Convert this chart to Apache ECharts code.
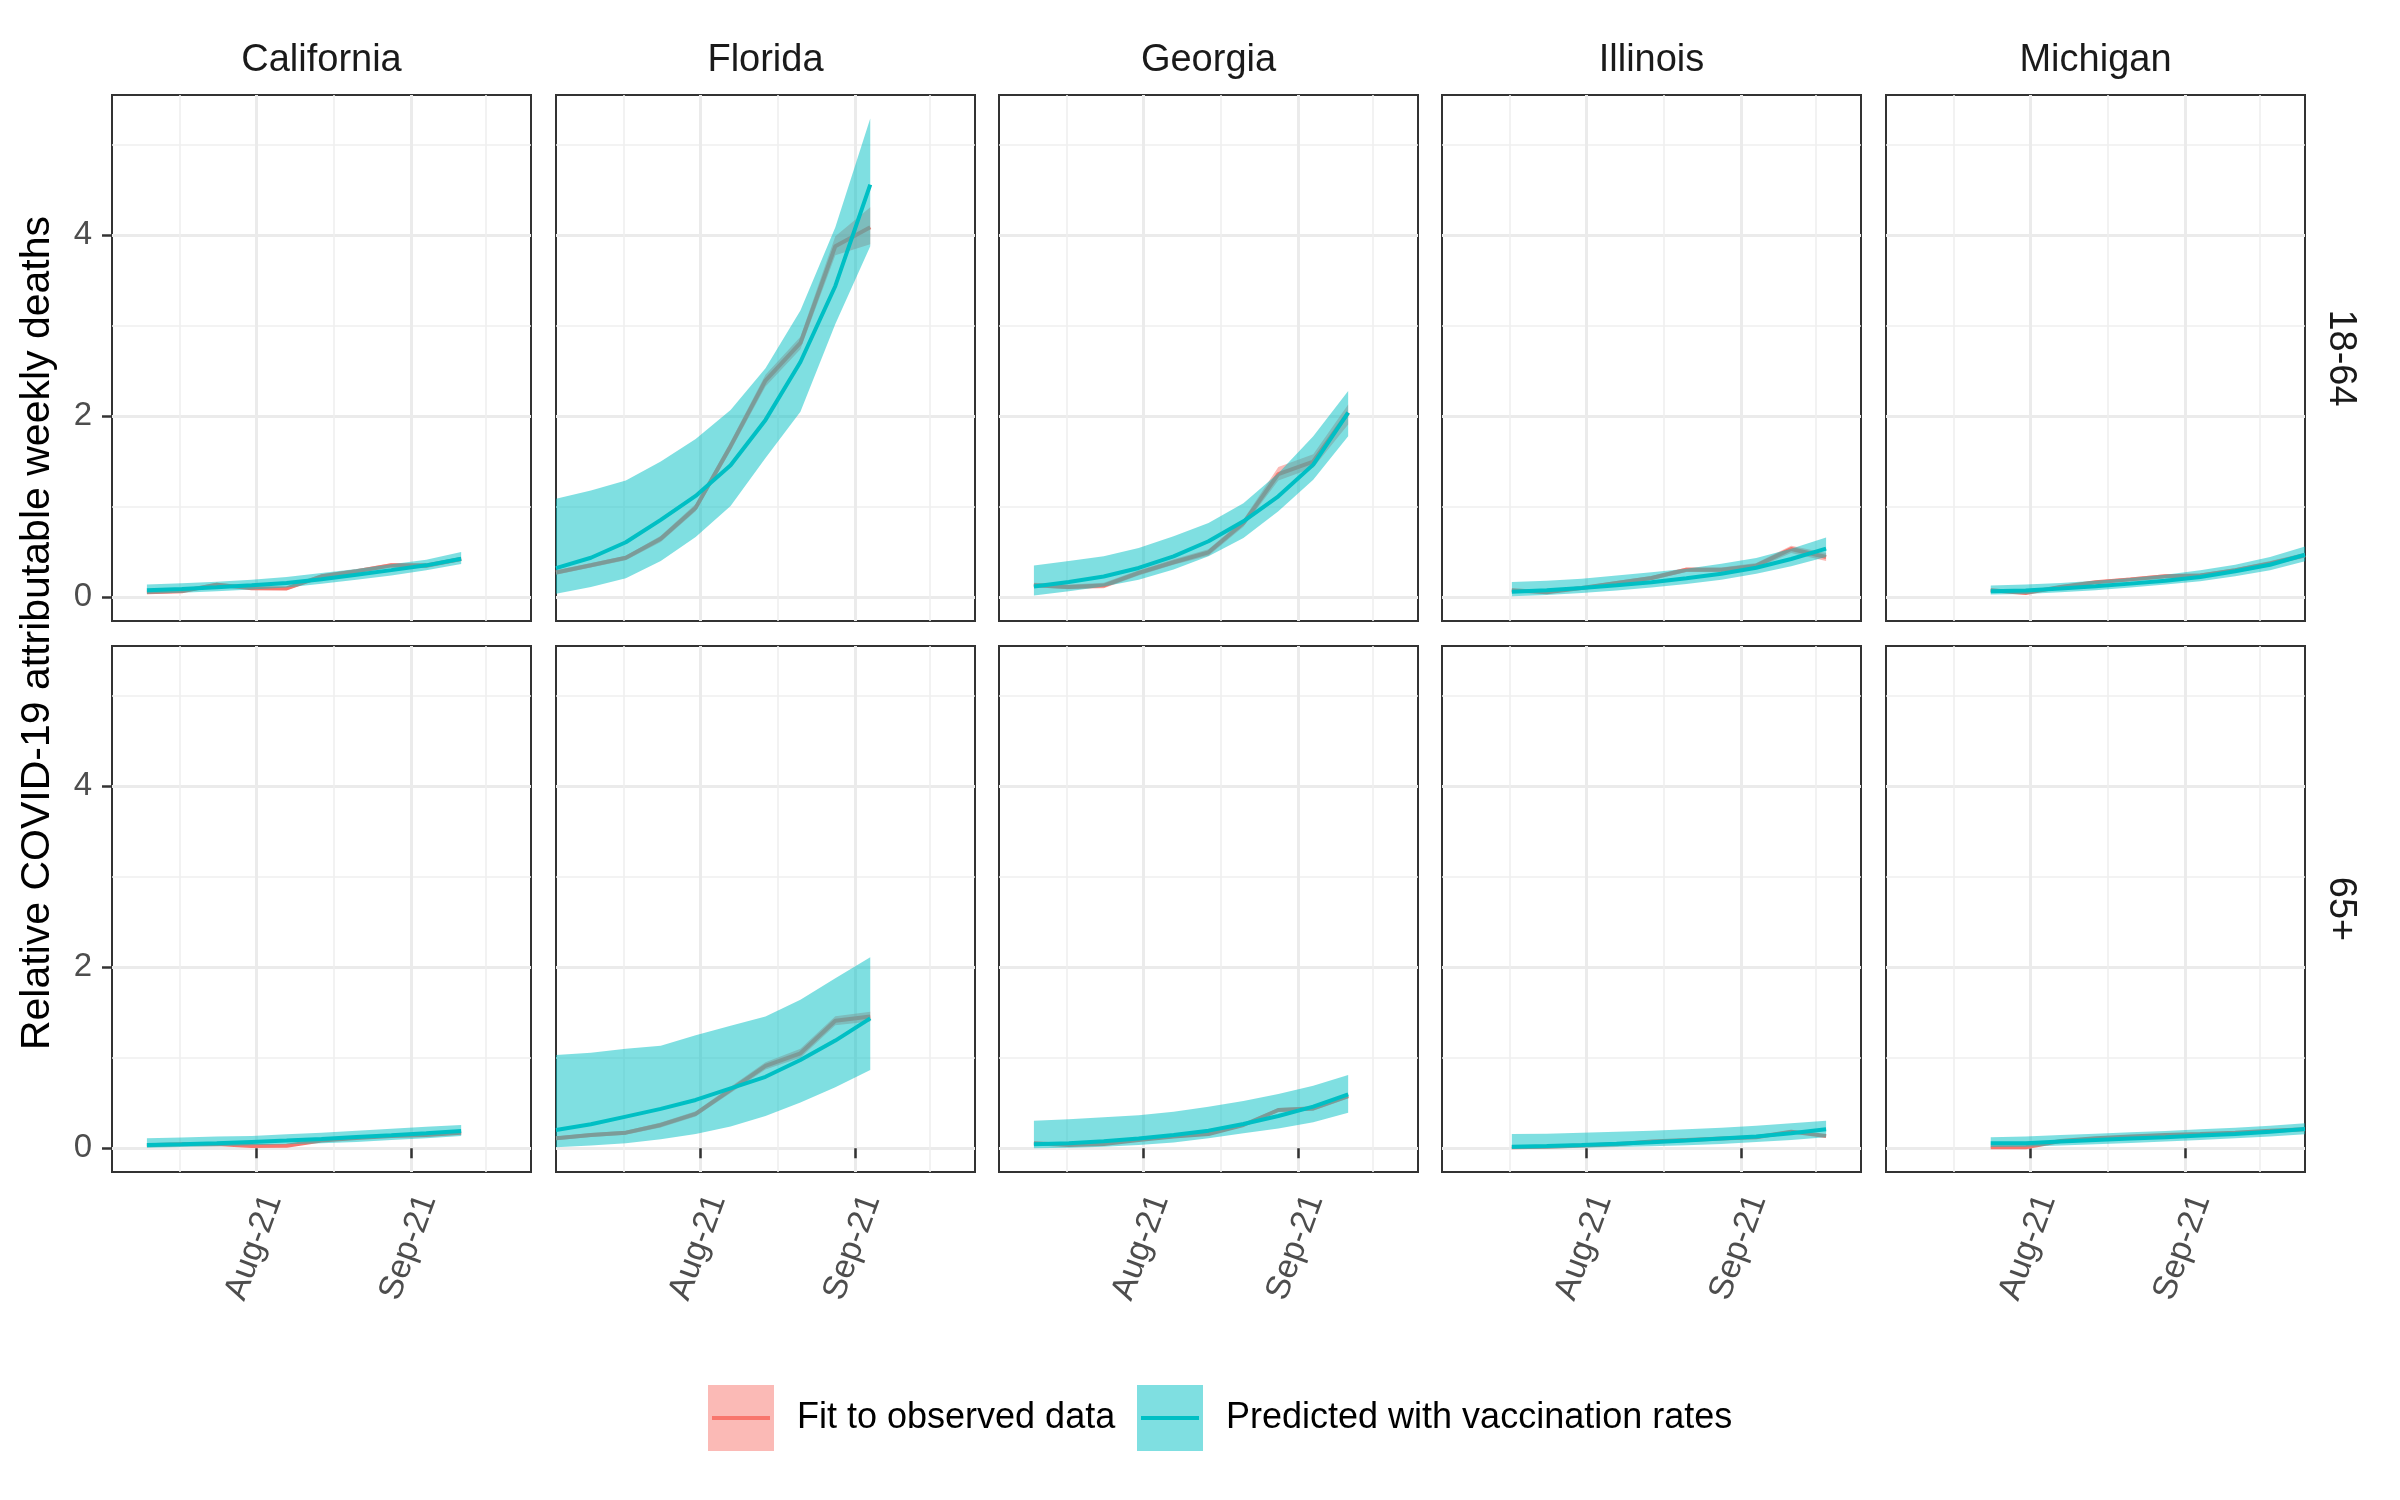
<!DOCTYPE html>
<html>
<head>
<meta charset="utf-8">
<script src="https://cdn.jsdelivr.net/npm/echarts@6/dist/echarts.min.js"></script>
<style>
html, body { margin: 0; background: #fff; }
#chart { width: 2400px; height: 1500px; }
</style>
</head>
<body>
<div id="chart"></div>
<script>
// facets
var states = ['California', 'Florida', 'Georgia', 'Illinois', 'Michigan'];
var ageGroups = ['18-64', '65+'];
var seriesNames = ['Fit to observed data', 'Predicted with vaccination rates'];

// axis breaks
var yTicks = [0, 2, 4];
var yMinorTicks = [1, 3, 5];
var xTickDates = ['2021-08-01', '2021-09-01'];
var xTickLabels = ['Aug-21', 'Sep-21'];
var xMinorDates = ['2021-07-16T12:00:00', '2021-08-16T12:00:00', '2021-09-16'];
var xRange = ['2021-07-03', '2021-09-25'];
var yRange = [-0.262, 5.55];

// weekly dates per state
var weeksCA = ['2021-07-10','2021-07-17','2021-07-24','2021-07-31','2021-08-07','2021-08-14','2021-08-21','2021-08-28','2021-09-04','2021-09-11'];
var weeksFL = ['2021-07-03','2021-07-10','2021-07-17','2021-07-24','2021-07-31','2021-08-07','2021-08-14','2021-08-21','2021-08-28','2021-09-04'];
var weeksGA = ['2021-07-10','2021-07-17','2021-07-24','2021-07-31','2021-08-07','2021-08-14','2021-08-21','2021-08-28','2021-09-04','2021-09-11'];
var weeksIL = ['2021-07-17','2021-07-24','2021-07-31','2021-08-07','2021-08-14','2021-08-21','2021-08-28','2021-09-04','2021-09-11','2021-09-18'];
var weeksMI = ['2021-07-24','2021-07-31','2021-08-07','2021-08-14','2021-08-21','2021-08-28','2021-09-04','2021-09-11','2021-09-18','2021-09-25'];

// 18-64
var caA_fitMid = [0.055,0.066,0.14,0.10,0.098,0.232,0.287,0.353,0.35,0.423];
var caA_fitLo = [0.04,0.05,0.12,0.082,0.08,0.21,0.265,0.33,0.325,0.40];
var caA_fitHi = [0.07,0.085,0.16,0.118,0.116,0.255,0.31,0.375,0.375,0.445];
var caA_predMid = [0.077,0.092,0.11,0.132,0.158,0.20,0.25,0.30,0.353,0.426];
var caA_predLo = [0.04,0.05,0.066,0.085,0.107,0.15,0.195,0.24,0.30,0.368];
var caA_predHi = [0.14,0.154,0.173,0.195,0.224,0.268,0.312,0.364,0.415,0.50];

var flA_fitMid = [0.274,0.354,0.437,0.646,0.989,1.67,2.395,2.81,3.88,4.09];
var flA_fitLo = [0.25,0.33,0.41,0.61,0.95,1.62,2.33,2.74,3.78,3.90];
var flA_fitHi = [0.30,0.38,0.46,0.68,1.03,1.72,2.46,2.88,3.99,4.31];
var flA_predMid = [0.323,0.437,0.608,0.856,1.12,1.46,1.96,2.60,3.44,4.56];
var flA_predLo = [0.04,0.114,0.209,0.40,0.665,1.01,1.54,2.05,3.02,3.88];
var flA_predHi = [1.09,1.18,1.29,1.50,1.75,2.07,2.53,3.17,4.09,5.29];

var gaA_fitMid = [0.133,0.114,0.129,0.269,0.387,0.497,0.82,1.36,1.50,2.04];
var gaA_fitLo = [0.11,0.09,0.10,0.24,0.36,0.46,0.78,1.29,1.43,1.91];
var gaA_fitHi = [0.16,0.14,0.16,0.30,0.42,0.53,0.86,1.44,1.58,2.13];
var gaA_predMid = [0.12,0.17,0.23,0.324,0.453,0.619,0.84,1.116,1.466,2.04];
var gaA_predLo = [0.02,0.066,0.12,0.195,0.306,0.453,0.656,0.95,1.30,1.78];
var gaA_predHi = [0.35,0.40,0.453,0.545,0.674,0.82,1.04,1.37,1.78,2.28];

var ilA_fitMid = [0.077,0.055,0.103,0.158,0.213,0.305,0.305,0.35,0.533,0.445];
var ilA_fitLo = [0.06,0.04,0.085,0.14,0.19,0.28,0.28,0.32,0.49,0.40];
var ilA_fitHi = [0.095,0.07,0.12,0.18,0.235,0.33,0.33,0.38,0.57,0.49];
var ilA_predMid = [0.0625,0.077,0.103,0.132,0.165,0.21,0.26,0.327,0.423,0.537];
var ilA_predLo = [0.011,0.026,0.048,0.074,0.107,0.147,0.195,0.26,0.342,0.445];
var ilA_predHi = [0.17,0.184,0.206,0.24,0.276,0.316,0.371,0.434,0.537,0.66];

var miA_fitMid = [0.077,0.048,0.115,0.165,0.198,0.232,0.24,0.30,0.375,0.465];
var miA_fitLo = [0.06,0.035,0.097,0.147,0.178,0.21,0.218,0.278,0.35,0.438];
var miA_fitHi = [0.095,0.062,0.133,0.183,0.218,0.254,0.262,0.322,0.40,0.492];
var miA_predMid = [0.066,0.074,0.096,0.121,0.151,0.184,0.224,0.287,0.36,0.47];
var miA_predLo = [0.03,0.037,0.055,0.077,0.107,0.14,0.176,0.232,0.298,0.397];
var miA_predHi = [0.13,0.14,0.158,0.184,0.213,0.25,0.298,0.36,0.445,0.56];

// 65+
var caB_fitMid = [0.033,0.044,0.048,0.026,0.028,0.085,0.114,0.136,0.147,0.173];
var caB_fitLo = [0.025,0.036,0.04,0.018,0.02,0.075,0.104,0.125,0.136,0.162];
var caB_fitHi = [0.041,0.052,0.056,0.034,0.036,0.095,0.124,0.147,0.158,0.184];
var caB_predMid = [0.037,0.044,0.055,0.07,0.085,0.103,0.125,0.143,0.165,0.19];
var caB_predLo = [0.007,0.015,0.022,0.033,0.044,0.055,0.07,0.092,0.11,0.136];
var caB_predHi = [0.11,0.118,0.129,0.136,0.154,0.173,0.195,0.217,0.239,0.257];

var flB_fitMid = [0.11,0.147,0.173,0.258,0.38,0.645,0.91,1.05,1.41,1.455];
var flB_fitLo = [0.09,0.125,0.15,0.23,0.35,0.61,0.87,1.00,1.36,1.40];
var flB_fitHi = [0.13,0.17,0.195,0.285,0.41,0.68,0.95,1.10,1.46,1.51];
var flB_predMid = [0.203,0.265,0.35,0.435,0.534,0.663,0.79,0.976,1.19,1.436];
var flB_predLo = [0.011,0.03,0.055,0.10,0.158,0.24,0.357,0.505,0.674,0.866];
var flB_predHi = [1.03,1.057,1.10,1.134,1.25,1.355,1.455,1.64,1.88,2.11];

var gaB_fitMid = [0.055,0.037,0.048,0.092,0.129,0.158,0.257,0.423,0.44,0.577];
var gaB_fitLo = [0.045,0.028,0.038,0.08,0.115,0.143,0.24,0.40,0.415,0.55];
var gaB_fitHi = [0.065,0.046,0.058,0.104,0.143,0.173,0.275,0.445,0.465,0.605];
var gaB_predMid = [0.044,0.055,0.077,0.107,0.147,0.195,0.268,0.357,0.46,0.596];
var gaB_predLo = [0.0,0.007,0.018,0.037,0.063,0.11,0.165,0.22,0.287,0.394];
var gaB_predHi = [0.305,0.32,0.342,0.364,0.404,0.46,0.522,0.60,0.69,0.81];

var ilB_fitMid = [0.011,0.018,0.03,0.044,0.074,0.092,0.107,0.121,0.184,0.136];
var ilB_fitLo = [0.004,0.011,0.022,0.035,0.064,0.082,0.096,0.11,0.17,0.122];
var ilB_fitHi = [0.018,0.025,0.038,0.053,0.084,0.102,0.118,0.132,0.198,0.15];
var ilB_predMid = [0.018,0.026,0.037,0.051,0.066,0.085,0.107,0.129,0.165,0.21];
var ilB_predLo = [-0.008,-0.005,0.007,0.015,0.022,0.033,0.048,0.07,0.092,0.121];
var ilB_predHi = [0.158,0.162,0.173,0.184,0.195,0.21,0.228,0.25,0.276,0.305];

var miB_fitMid = [0.012,0.012,0.081,0.11,0.129,0.147,0.158,0.173,0.195,0.21];
var miB_fitLo = [0.005,0.005,0.07,0.098,0.117,0.135,0.146,0.16,0.182,0.196];
var miB_fitHi = [0.02,0.02,0.092,0.122,0.141,0.159,0.17,0.186,0.208,0.224];
var miB_predMid = [0.055,0.055,0.074,0.092,0.107,0.121,0.14,0.158,0.184,0.213];
var miB_predLo = [0.015,0.018,0.03,0.044,0.059,0.074,0.092,0.11,0.129,0.154];
var miB_predHi = [0.121,0.129,0.147,0.162,0.176,0.191,0.21,0.228,0.25,0.276];

// panels in row order (age), then column order (state)
var panelWeeks = [weeksCA, weeksFL, weeksGA, weeksIL, weeksMI];
var panels = [
  [[caA_fitMid, caA_fitLo, caA_fitHi], [caA_predMid, caA_predLo, caA_predHi]],
  [[flA_fitMid, flA_fitLo, flA_fitHi], [flA_predMid, flA_predLo, flA_predHi]],
  [[gaA_fitMid, gaA_fitLo, gaA_fitHi], [gaA_predMid, gaA_predLo, gaA_predHi]],
  [[ilA_fitMid, ilA_fitLo, ilA_fitHi], [ilA_predMid, ilA_predLo, ilA_predHi]],
  [[miA_fitMid, miA_fitLo, miA_fitHi], [miA_predMid, miA_predLo, miA_predHi]],
  [[caB_fitMid, caB_fitLo, caB_fitHi], [caB_predMid, caB_predLo, caB_predHi]],
  [[flB_fitMid, flB_fitLo, flB_fitHi], [flB_predMid, flB_predLo, flB_predHi]],
  [[gaB_fitMid, gaB_fitLo, gaB_fitHi], [gaB_predMid, gaB_predLo, gaB_predHi]],
  [[ilB_fitMid, ilB_fitLo, ilB_fitHi], [ilB_predMid, ilB_predLo, ilB_predHi]],
  [[miB_fitMid, miB_fitLo, miB_fitHi], [miB_predMid, miB_predLo, miB_predHi]]
];

var colors = ['#F8766D', '#00BFC4'];
var fills = ['rgba(248,118,109,0.5)', 'rgba(0,191,196,0.5)'];
var FONT = 'Liberation Sans, Arial, sans-serif';

// dates -> ms (UTC), used on a plain value axis
function ts(s) {
  return Date.parse(s.length === 10 ? s + 'T00:00:00Z' : s + 'Z');
}

var xTickTs = xTickDates.map(ts);
var xMinorTs = xMinorDates.map(ts);

// layout
var lefts = [112, 556, 999, 1442, 1886];
var tops = [95, 646];
var PW = 419, PH = 526;

var grids = [], xAxes = [], yAxes = [], series = [], graphics = [];

// ribbon as one polygon through the axis scales
function ribbonRenderer(weeks, lo, hi, fill) {
  return function(params, api) {
    if (params.dataIndex !== 0) return;
    var pts = [];
    for (var i = 0; i < weeks.length; i++) pts.push(api.coord([weeks[i], hi[i]]));
    for (var j = weeks.length - 1; j >= 0; j--) pts.push(api.coord([weeks[j], lo[j]]));
    return { type: 'polygon', shape: { points: pts }, style: { fill: fill } };
  };
}

ageGroups.forEach(function(age, r) {
  states.forEach(function(st, c) {
    var p = r * 5 + c;
    grids.push({
      left: lefts[c], top: tops[r], width: PW, height: PH,
      show: true, backgroundColor: '#fff', borderColor: '#333', borderWidth: 2
    });
    // major x
    xAxes.push({
      type: 'value', gridIndex: p, min: ts(xRange[0]), max: ts(xRange[1]), position: 'bottom',
      axisLine: { show: false },
      axisTick: { show: r === 1, customValues: xTickTs, length: 10, lineStyle: { color: '#333', width: 2.5 } },
      axisLabel: {
        show: r === 1, customValues: xTickTs, rotate: 70, margin: 18, verticalAlign: 'top',
        fontSize: 34, color: '#4D4D4D', fontFamily: FONT,
        formatter: function(v) {
          var i = xTickTs.indexOf(v);
          return i >= 0 ? xTickLabels[i] : '';
        }
      },
      splitLine: { show: true, lineStyle: { color: '#EBEBEB', width: 3 } }
    });
    // minor x
    xAxes.push({
      type: 'value', gridIndex: p, min: ts(xRange[0]), max: ts(xRange[1]), position: 'bottom',
      axisLine: { show: false },
      axisTick: { show: false, customValues: xMinorTs },
      axisLabel: { show: false, customValues: xMinorTs },
      splitLine: { show: true, lineStyle: { color: '#EFEFEF', width: 1.6 } }
    });
    // major y
    yAxes.push({
      type: 'value', gridIndex: p, min: yRange[0], max: yRange[1],
      axisLine: { show: false },
      axisTick: { show: c === 0, customValues: yTicks, length: 10, lineStyle: { color: '#333', width: 2.5 } },
      axisLabel: { show: c === 0, customValues: yTicks, margin: 20, fontSize: 33, color: '#4D4D4D', fontFamily: FONT },
      splitLine: { show: true, lineStyle: { color: '#EBEBEB', width: 3 } }
    });
    // minor y
    yAxes.push({
      type: 'value', gridIndex: p, min: yRange[0], max: yRange[1],
      axisLine: { show: false },
      axisTick: { show: false, customValues: yMinorTicks },
      axisLabel: { show: false, customValues: yMinorTicks },
      splitLine: { show: true, lineStyle: { color: '#EFEFEF', width: 1.6 } }
    });

    var weeks = panelWeeks[c].map(ts);
    // draw order: fit ribbon, fit line, predicted ribbon, predicted line
    panels[p].forEach(function(set, k) {
      var mid = set[0], lo = set[1], hi = set[2];
      series.push({
        name: seriesNames[k],
        type: 'custom', xAxisIndex: 2 * p, yAxisIndex: 2 * p, z: 2 + 2 * k,
        silent: true, itemStyle: { color: fills[k] },
        encode: { x: 0, y: [1, 2] },
        data: weeks.map(function(t, i) { return [t, lo[i], hi[i]]; }),
        renderItem: ribbonRenderer(weeks, lo, hi, fills[k])
      });
      series.push({
        type: 'line', xAxisIndex: 2 * p, yAxisIndex: 2 * p, z: 3 + 2 * k,
        symbol: 'none', silent: true,
        lineStyle: { color: colors[k], width: 4 }, itemStyle: { color: colors[k] },
        data: weeks.map(function(t, i) { return [t, mid[i]]; })
      });
    });
  });
});

// strip labels
states.forEach(function(st, c) {
  graphics.push({
    type: 'text', x: lefts[c] + PW / 2, y: 61,
    style: { text: st, fontSize: 38, fontFamily: FONT, fill: '#1A1A1A', align: 'center', verticalAlign: 'middle' }
  });
});
ageGroups.forEach(function(age, r) {
  graphics.push({
    type: 'text', x: 2340, y: tops[r] + PH / 2, rotation: -Math.PI / 2,
    style: { text: age, fontSize: 38, fontFamily: FONT, fill: '#1A1A1A', align: 'center', verticalAlign: 'middle' }
  });
});
// y axis title
graphics.push({
  type: 'text', x: 38, y: 633, rotation: Math.PI / 2,
  style: { text: 'Relative COVID-19 attributable weekly deaths', fontSize: 41, fontFamily: FONT, fill: '#000', align: 'center', verticalAlign: 'middle' }
});
// line inside legend keys
var keyLefts = [708, 1137];
keyLefts.forEach(function(x, k) {
  graphics.push({
    type: 'line', z: 100,
    shape: { x1: x + 4, y1: 1418, x2: x + 62, y2: 1418 },
    style: { stroke: colors[k], lineWidth: 4 }
  });
});

var legends = seriesNames.map(function(name, k) {
  return {
    data: [name], left: keyLefts[k], top: 1385, padding: 0,
    orient: 'horizontal', selectedMode: false,
    icon: 'rect', itemWidth: 66, itemHeight: 66,
    itemStyle: { color: fills[k], borderWidth: 0 },
    textStyle: { fontSize: 36, color: '#000', fontFamily: FONT, padding: [0, 0, 0, 18] }
  };
});

var myChart = echarts.init(document.getElementById('chart'));
var option = {
  animation: false,
  backgroundColor: '#fff',
  grid: grids,
  xAxis: xAxes,
  yAxis: yAxes,
  legend: legends,
  graphic: graphics,
  series: series
};
myChart.setOption(option);
</script>
</body>
</html>
